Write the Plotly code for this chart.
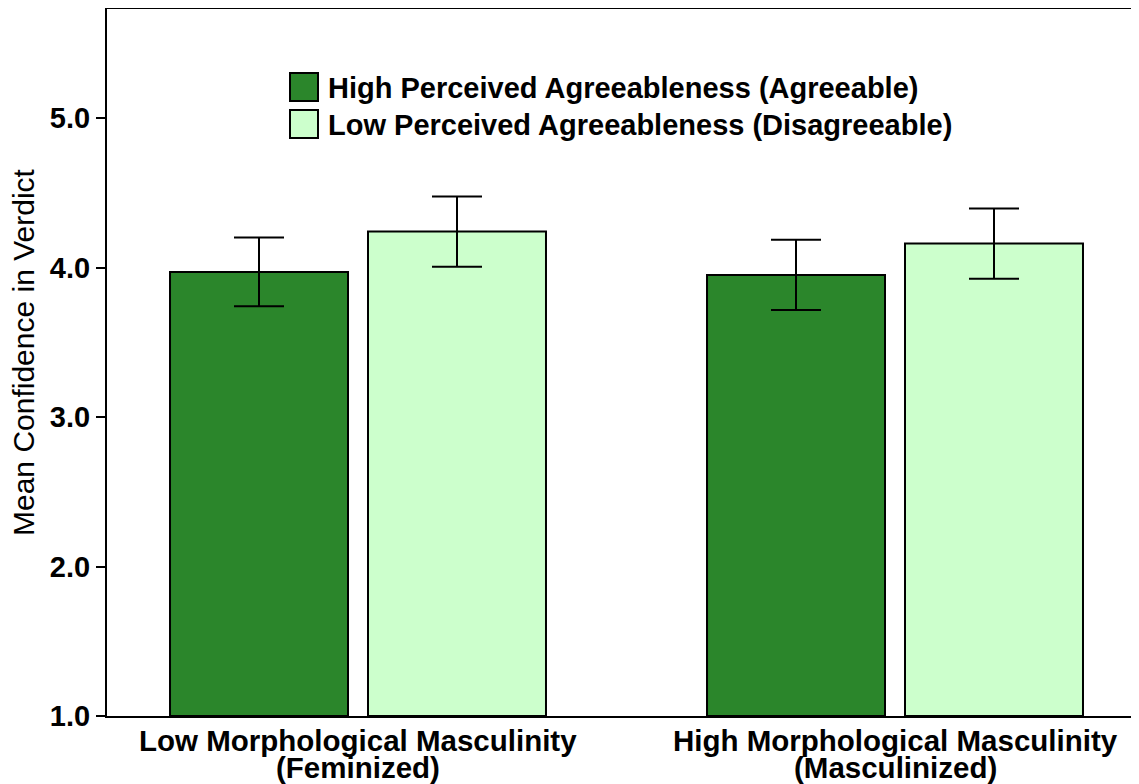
import plotly.graph_objects as go

# Data
groups = ["Low Morphological Masculinity", "High Morphological Masculinity"]
group_sub = ["(Feminized)", "(Masculinized)"]
series = ["High Perceived Agreeableness (Agreeable)",
          "Low Perceived Agreeableness (Disagreeable)"]
agreeable_mean = [3.97, 3.95]
agreeable_err = [0.23, 0.235]
disagreeable_mean = [4.24, 4.16]
disagreeable_err = [0.235, 0.235]
y_ticks = [1.0, 2.0, 3.0, 4.0, 5.0]
y_title = "Mean Confidence in Verdict"

COLORS = ["#2B862B", "#CCFFCC"]
FONT = "Liberation Sans, Arial, sans-serif"

# page puts the figure 8px in from the top-left corner, so work in figure px
OFF = 8
W, H = 1139 - OFF, 784 - OFF
L, R, T, B = 107 - OFF, 1139 - OFF, 9 - OFF, 716 - OFF


def px_x(p):
    return (p - OFF - L) / (R - L)


def px_y(p):
    return (B - (p - OFF)) / (B - T)


fig = go.Figure()
for name, mean, err, col in [(series[0], agreeable_mean, agreeable_err, COLORS[0]),
                             (series[1], disagreeable_mean, disagreeable_err, COLORS[1])]:
    fig.add_trace(go.Bar(
        x=groups, y=[m - 1.0 for m in mean], base=1.0, name=name,
        marker=dict(color=col, line=dict(color="black", width=2)),
        error_y=dict(type="data", array=err, color="black", thickness=2, width=25),
        showlegend=False,
    ))

# hand-made legend (plotly caps legend swatch size)
for i, (name, col) in enumerate(zip(series, COLORS)):
    top = 73 + i * 37
    fig.add_shape(type="rect", xref="paper", yref="paper",
                  x0=px_x(290), x1=px_x(318), y0=px_y(top + 28), y1=px_y(top),
                  fillcolor=col, line=dict(color="black", width=2))
    fig.add_annotation(xref="paper", yref="paper", x=px_x(326), y=px_y(top + 15),
                       xanchor="left", yanchor="middle", showarrow=False, text=name,
                       font=dict(family=FONT, size=29, color="black", weight="bold"))

# two-line category labels
for g, sub in zip(groups, group_sub):
    fig.add_annotation(x=g, xref="x", yref="paper", y=px_y(723), yanchor="top",
                       showarrow=False, text=g, borderpad=0,
                       font=dict(family=FONT, size=29.5, color="black", weight="bold"))
    fig.add_annotation(x=g, xref="x", yref="paper", y=px_y(750), yanchor="top",
                       showarrow=False, text=sub, borderpad=0,
                       font=dict(family=FONT, size=29.5, color="black", weight="bold"))

# y-axis title, placed a little above the plot centre as in the reference
fig.add_annotation(xref="paper", yref="paper", x=px_x(23), y=px_y(352),
                   xanchor="center", yanchor="middle", textangle=-90,
                   showarrow=False, text=y_title,
                   font=dict(family=FONT, size=30, color="black"))

fig.update_layout(
    width=W, height=H,
    margin=dict(l=L, r=W - R, t=T, b=H - B),
    paper_bgcolor="white", plot_bgcolor="white",
    barmode="group", bargap=0.2626, bargroupgap=0.101,
    font=dict(family=FONT, color="black"),
    xaxis=dict(range=[(107 - 358) / 537, (1139 - 358) / 537], showticklabels=False,
               showline=True, linecolor="black", linewidth=2, mirror=True,
               ticks="", showgrid=False, zeroline=False),
    yaxis=dict(range=[1.0, 1 + (716 - 9) / 149.5], tickvals=y_ticks, tickformat=".1f",
               showline=True, linecolor="black", linewidth=2,
               ticks="outside", ticklen=9, tickwidth=2, tickcolor="black",
               showgrid=False, zeroline=False,
               tickfont=dict(family=FONT, size=29, weight="bold")),
)

fig.write_html("out.html")
